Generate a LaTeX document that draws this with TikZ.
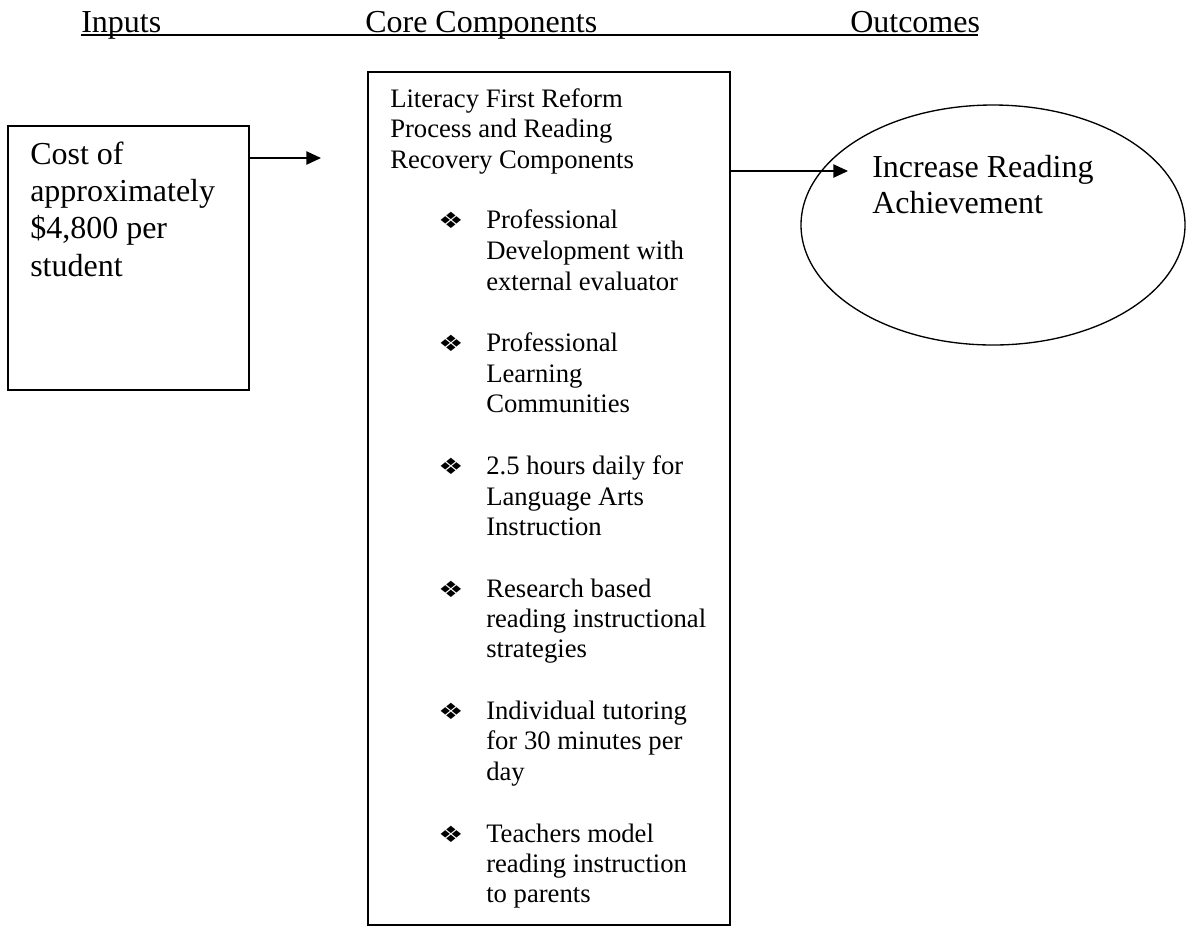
\documentclass[tikz,border=0pt]{standalone}
\usepackage{fontspec}
\setmainfont{Liberation Serif}
\newfontfamily\symfont{DejaVu Sans}
\usetikzlibrary{arrows.meta,shapes.geometric}
\tikzset{
  big/.style={font=\fontsize{24}{28}\selectfont, anchor=base west, inner sep=0pt},
  small/.style={font=\fontsize{20}{23}\selectfont, anchor=base west, inner sep=0pt},
  bul/.style={font=\symfont\fontsize{21}{21}\selectfont, anchor=base west, inner sep=0pt},
  frame/.style={draw, line width=1pt, inner sep=0pt},
  arr/.style={line width=1pt, -{Triangle[length=11pt,width=10pt]}},
}
\newcommand{\bulglyph}{\scalebox{1}[0.8]{❖}}
\begin{document}
\begin{tikzpicture}[x=0.75pt,y=-0.75pt]
\useasboundingbox (0,0) rectangle (1194,926);
% header
\node[big] (h1) at (81,32) {Inputs};
\node[big] (h2) at (365,32) {Core Components};
\node[big] (h3) at (850,32) {Outcomes};
\coordinate (ulA) at (81,34.5);
\coordinate (ulB) at (978,34.5);
\draw[line width=1.5pt] (ulA) -- (ulB);
% input box
\node[frame, minimum width=241*0.75pt, minimum height=264*0.75pt] (inp) at (128.5,258) {};
\node[big] (i1) at (30,164) {Cost of};
\node[big] (i2) at (30,201) {approximately};
\node[big] (i3) at (30,238.5) {\$4,800 per};
\node[big] (i4) at (30,276) {student};
% core box
\node[frame, minimum width=362*0.75pt, minimum height=853*0.75pt] (core) at (549,498.5) {};
\node[small] (c1) at (390,107) {Literacy First Reform};
\node[small] (c2) at (390,137.5) {Process and Reading};
\node[small] (c3) at (390,168) {Recovery Components};
% bullets
\foreach \y/\n in {228/b1,351/b2,474/b3,597/b4,719/b5,842/b6}{
  \node[bul] (\n) at (438,\y) {\bulglyph};
}
\node[small] (p11) at (486,228) {Professional};
\node[small] (p12) at (486,259) {Development with};
\node[small] (p13) at (486,290) {external evaluator};
\node[small] (p21) at (486,351) {Professional};
\node[small] (p22) at (486,382) {Learning};
\node[small] (p23) at (486,412) {Communities};
\node[small] (p31) at (486,474) {2.5 hours daily for};
\node[small] (p32) at (486,505) {Language Arts};
\node[small] (p33) at (486,535) {Instruction};
\node[small] (p41) at (486,597) {Research based};
\node[small] (p42) at (486,627) {reading instructional};
\node[small] (p43) at (486,657) {strategies};
\node[small] (p51) at (486,719) {Individual tutoring};
\node[small] (p52) at (486,749) {for 30 minutes per};
\node[small] (p53) at (486,780) {day};
\node[small] (p61) at (486,842) {Teachers model};
\node[small] (p62) at (486,872) {reading instruction};
\node[small] (p63) at (486,902) {to parents};
% outcome ellipse
\node[ellipse, draw, line width=1pt, inner sep=0pt, minimum width=384*0.75pt, minimum height=240*0.75pt] (out) at (993,225) {};
\node[big] (o1) at (872,177) {Increase Reading};
\node[big] (o2) at (872,213) {Achievement};
% arrows
\coordinate (a1) at (321,158);
\coordinate (a2) at (848,171);
\draw[arr] (inp.east |- a1) -- (a1);
\draw[arr] (core.east |- a2) -- (a2);
\end{tikzpicture}
\end{document}
